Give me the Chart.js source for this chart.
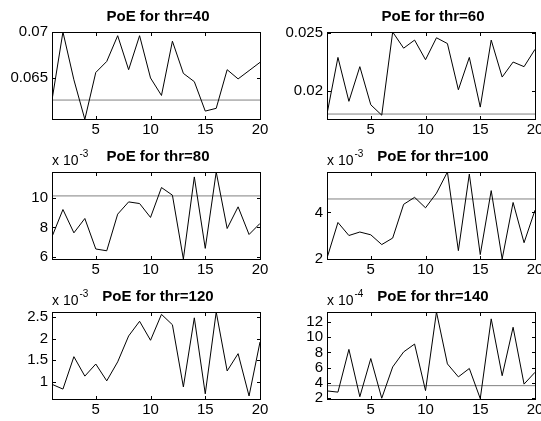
<!DOCTYPE html>
<html>
<head>
<meta charset="utf-8">
<script src="https://cdn.jsdelivr.net/npm/chart.js@4.4.1/dist/chart.umd.min.js"></script>
<style>
  body { margin: 0; background: #fff; }
  #fig { position: relative; width: 541px; height: 421px; background: #fff; overflow: hidden; }
  #fig canvas { position: absolute; }
</style>
</head>
<body>
<div id="fig"></div>
<script>
// x axis: run index 1..20
let xValues = [1, 2, 3, 4, 5, 6, 7, 8, 9, 10, 11, 12, 13, 14, 15, 16, 17, 18, 19, 20];
let xTicks = [5, 10, 15, 20];

let titles = ['PoE for thr=40', 'PoE for thr=60', 'PoE for thr=80',
              'PoE for thr=100', 'PoE for thr=120', 'PoE for thr=140'];
let exponents = [0, 0, -3, -3, -3, -4];

// series values (plots 3..6 are mantissas of the x 10^exp label)
let poe40 = [0.0626, 0.0700, 0.0648, 0.0605, 0.0656, 0.0668, 0.0696, 0.0659, 0.0696, 0.0650,
             0.0631, 0.0690, 0.0655, 0.0646, 0.0614, 0.0617, 0.0659, 0.0649, 0.0658, 0.0667];
let poe60 = [0.0180, 0.0229, 0.0191, 0.0221, 0.0188, 0.0179, 0.0251, 0.0237, 0.0244, 0.0227,
             0.0246, 0.0241, 0.0201, 0.0229, 0.0186, 0.0244, 0.0212, 0.0225, 0.0221, 0.0236];
let poe80 = [7.38, 9.20, 7.64, 8.60, 6.56, 6.44, 8.89, 9.71, 9.60, 8.67,
             10.67, 10.16, 5.89, 11.38, 6.60, 11.71, 7.93, 9.38, 7.53, 8.27];
let poe100 = [2.04, 3.57, 3.01, 3.16, 3.04, 2.62, 2.90, 4.35, 4.65, 4.20,
              4.83, 5.74, 2.36, 5.65, 2.19, 4.94, 2.00, 4.43, 2.70, 4.10];
let poe120 = [0.94, 0.83, 1.58, 1.13, 1.41, 1.02, 1.46, 2.06, 2.40, 1.96,
              2.56, 2.32, 0.88, 2.48, 0.72, 2.615, 1.25, 1.65, 0.67, 1.92];
let poe140 = [2.96, 2.80, 8.40, 2.20, 7.20, 2.00, 6.10, 8.07, 9.10, 3.00,
              13.30, 6.50, 4.80, 5.90, 1.95, 12.40, 4.95, 11.30, 3.85, 5.40];
let series = [poe40, poe60, poe80, poe100, poe120, poe140];

// horizontal threshold lines (null = not visible in range)
let thresholds = [0.0626, 0.0180, 10.11, 4.58, null, 3.65];

// axis limits and tick labels
let yMins = [0.06054, 0.01757, 5.89, 2.0, 0.6, 1.9];
let yMaxs = [0.0700, 0.0251, 11.71, 5.74, 2.615, 13.3];
let yTicks = [
  [0.065, 0.07],
  [0.02, 0.025],
  [6, 8, 10],
  [2, 4],
  [1, 1.5, 2, 2.5],
  [2, 4, 6, 8, 10, 12]
];

const FONT = '"Liberation Sans", Arial, Helvetica, sans-serif';

// MATLAB-like box, inward ticks, title and exponent label
const matlabAxes = {
  id: 'matlabAxes',
  afterDraw(chart, args, opts) {
    const ctx = chart.ctx;
    const a = chart.chartArea;
    const sx = chart.scales.x, sy = chart.scales.y;
    const tl = 3;
    ctx.save();
    ctx.strokeStyle = '#000';
    ctx.lineWidth = 1;
    ctx.strokeRect(a.left + 0.5, a.top + 0.5, a.right - a.left, a.bottom - a.top);
    ctx.beginPath();
    sx.ticks.forEach(t => {
      let px = Math.round(sx.getPixelForValue(t.value)) + 0.5;
      ctx.moveTo(px, a.bottom); ctx.lineTo(px, a.bottom - tl);
      ctx.moveTo(px, a.top + 1); ctx.lineTo(px, a.top + 1 + tl);
    });
    sy.ticks.forEach(t => {
      let py = Math.round(sy.getPixelForValue(t.value)) + 0.5;
      ctx.moveTo(a.left + 1, py); ctx.lineTo(a.left + 1 + tl, py);
      ctx.moveTo(a.right, py); ctx.lineTo(a.right - tl, py);
    });
    ctx.stroke();

    ctx.fillStyle = '#000';
    ctx.textBaseline = 'alphabetic';
    ctx.font = 'bold 15px ' + FONT;
    ctx.textAlign = 'center';
    ctx.fillText(opts.title, (a.left + a.right) / 2 + 2, a.top - 11);

    if (opts.exponent) {
      ctx.textAlign = 'left';
      ctx.font = '14px ' + FONT;
      let base = 'x 10';
      ctx.fillText(base, a.left, a.top - 7);
      let w = ctx.measureText(base).width;
      ctx.font = '10px ' + FONT;
      ctx.fillText('-' + Math.abs(opts.exponent), a.left + w + 1, a.top - 15);
    }
    ctx.restore();
  }
};

const fig = document.getElementById('fig');

series.forEach(function (vals, i) {
  let col = i % 2, row = Math.floor(i / 2);
  let canvas = document.createElement('canvas');
  let cw = col === 0 ? 270 : 271;
  canvas.width = cw;
  canvas.height = 140;
  canvas.style.left = (col * 270) + 'px';
  canvas.style.top = (row * 140) + 'px';
  fig.appendChild(canvas);

  let yAxisWidth = col === 0 ? 52 : 57;
  let rightPad = col === 0 ? 10 : 6;

  let datasets = [{
    data: xValues.map((x, k) => ({ x: x, y: vals[k] })),
    borderColor: '#000',
    borderWidth: 1,
    pointRadius: 0,
    tension: 0,
    fill: false
  }];
  if (thresholds[i] !== null) {
    datasets.push({
      data: [{ x: xValues[0], y: thresholds[i] }, { x: xValues[xValues.length - 1], y: thresholds[i] }],
      borderColor: '#808080',
      borderWidth: 1,
      pointRadius: 0,
      fill: false
    });
  }

  new Chart(canvas.getContext('2d'), {
    type: 'line',
    data: { datasets: datasets },
    plugins: [matlabAxes],
    options: {
      responsive: false,
      animation: false,
      events: [],
      layout: { padding: { top: 32, right: rightPad, left: 0, bottom: 0 } },
      plugins: {
        legend: { display: false },
        tooltip: { enabled: false },
        title: { display: false },
        matlabAxes: { title: titles[i], exponent: exponents[i] }
      },
      scales: {
        x: {
          type: 'linear',
          min: 1,
          max: 20,
          grid: { display: false, drawTicks: false },
          border: { display: false },
          afterBuildTicks: s => { s.ticks = xTicks.map(v => ({ value: v })); },
          afterFit: s => { s.height = 21; s.paddingLeft = 0; s.paddingRight = 0; },
          ticks: { color: '#000', font: { family: FONT, size: 15 }, padding: 2, autoSkip: false, maxRotation: 0 }
        },
        y: {
          type: 'linear',
          min: yMins[i],
          max: yMaxs[i],
          grid: { display: false, drawTicks: false },
          border: { display: false },
          afterBuildTicks: s => { s.ticks = yTicks[i].map(v => ({ value: v })); },
          afterFit: s => { s.width = yAxisWidth; s.paddingTop = 0; s.paddingBottom = 0; },
          ticks: {
            color: '#000',
            font: { family: FONT, size: 15 },
            padding: 4,
            autoSkip: false,
            callback: v => String(v)
          }
        }
      }
    }
  });
});
</script>
</body>
</html>
